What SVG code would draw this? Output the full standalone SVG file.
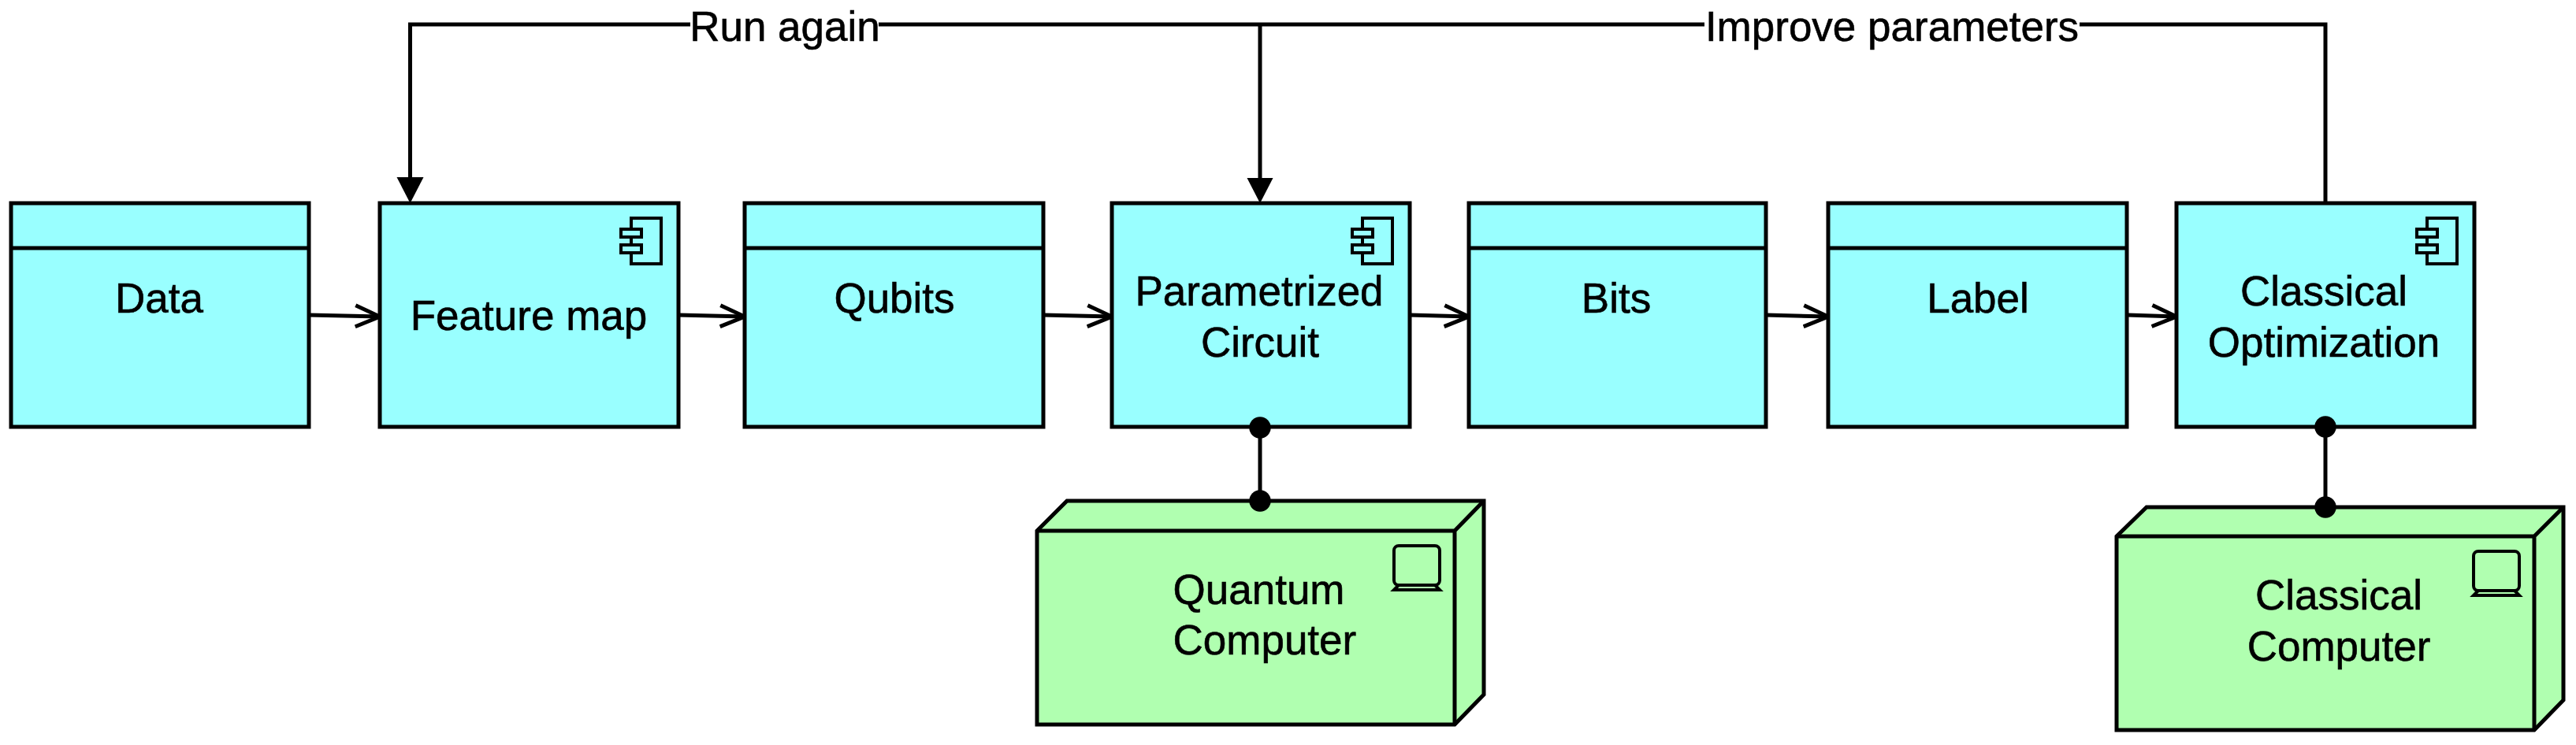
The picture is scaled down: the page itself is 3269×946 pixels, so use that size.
<svg xmlns="http://www.w3.org/2000/svg" width="3269" height="946" viewBox="0 0 3269 946">
<style>
.b{fill:#99ffff;stroke:#000;stroke-width:5}
.g{fill:#b0ffb0;stroke:#000;stroke-width:5;stroke-linejoin:miter}
.i{fill:#99ffff;stroke:#000;stroke-width:4}
.m{fill:none;stroke:#000;stroke-width:4}
.l{fill:none;stroke:#000;stroke-width:5}
text{font-family:"Liberation Sans",Arial,sans-serif;font-size:53px;fill:#000;stroke:#000;stroke-width:0.6;text-anchor:middle}
text.s{text-anchor:start}
</style>
<defs>
<marker id="open" markerUnits="userSpaceOnUse" markerWidth="40" markerHeight="40" refX="32" refY="20" orient="auto" viewBox="0 0 40 40"><path d="M1,6.500 L32,20 L1,33.500" fill="none" stroke="#000" stroke-width="5"/></marker>
<g id="cmp"><rect class="i" x="0" y="0" width="38" height="58"/><rect class="i" x="-13" y="14" width="26" height="10"/><rect class="i" x="-13" y="34" width="26" height="10"/></g>
</defs>
<rect width="3269" height="946" fill="#fff"/>
<g id="connectors">
<path class="l" d="M876,31 H520.500 V226"/>
<path class="l" d="M1115,31 H2163"/>
<path class="l" d="M2639,31 H2951 V258"/>
<path class="l" d="M1599,31 V228"/>
<path d="M503.500,225 H537.500 L520.500,258 Z" fill="#000"/>
<path d="M1582.500,226 H1615.500 L1599,258 Z" fill="#000"/>
<line class="l" x1="392" y1="400" x2="482" y2="402" marker-end="url(#open)"/>
<line class="l" x1="861" y1="400" x2="945" y2="402" marker-end="url(#open)"/>
<line class="l" x1="1324" y1="400" x2="1411" y2="402" marker-end="url(#open)"/>
<line class="l" x1="1789" y1="400" x2="1864" y2="402" marker-end="url(#open)"/>
<line class="l" x1="2241" y1="400" x2="2320" y2="402" marker-end="url(#open)"/>
<line class="l" x1="2700" y1="400" x2="2762" y2="402" marker-end="url(#open)"/>
</g>
<g id="data"><rect class="b" x="14" y="258" width="378" height="284"/><line class="l" x1="14" y1="315" x2="392" y2="315"/><text x="202" y="397">Data</text></g>
<g id="feature-map"><rect class="b" x="482" y="258" width="379" height="284"/><use href="#cmp" x="801" y="277"/><text x="671" y="419">Feature map</text></g>
<g id="qubits"><rect class="b" x="945" y="258" width="379" height="284"/><line class="l" x1="945" y1="315" x2="1324" y2="315"/><text x="1135" y="397">Qubits</text></g>
<g id="parametrized-circuit"><rect class="b" x="1411" y="258" width="378" height="284"/><use href="#cmp" x="1729" y="277"/><text x="1598" y="388">Parametrized</text><text x="1599" y="453">Circuit</text></g>
<g id="bits"><rect class="b" x="1864" y="258" width="377" height="284"/><line class="l" x1="1864" y1="315" x2="2241" y2="315"/><text x="2051" y="397">Bits</text></g>
<g id="label"><rect class="b" x="2320" y="258" width="379" height="284"/><line class="l" x1="2320" y1="315" x2="2699" y2="315"/><text x="2510" y="397">Label</text></g>
<g id="classical-optimization"><rect class="b" x="2762" y="258" width="378" height="284"/><use href="#cmp" x="3080" y="277"/><text x="2949" y="388">Classical</text><text x="2949" y="453">Optimization</text></g>
<g id="quantum-computer">
<path class="g" d="M1316,674 L1354,636 H1883 V882 L1846,920 H1316 Z"/><path class="l" d="M1316,674 H1846 V920 M1846,674 L1883,636"/>
<rect class="m" x="1769" y="693" width="58" height="50" rx="6"/><path class="m" d="M1775,743 L1769,749 H1827 L1821,743"/>
<text class="s" x="1488.500" y="767">Quantum</text><text class="s" x="1488.500" y="831">Computer</text></g>
<g id="classical-computer">
<path class="g" d="M2686,681 L2724,644 H3253 V889 L3216,927 H2686 Z"/><path class="l" d="M2686,681 H3216 V927 M3216,681 L3253,644"/>
<rect class="m" x="3139" y="700" width="58" height="50" rx="6"/><path class="m" d="M3145,750 L3139,756 H3197 L3191,750"/>
<text x="2968" y="774">Classical</text><text x="2968" y="839">Computer</text></g>
<g id="labels"><text x="996" y="52">Run again</text><text x="2401" y="52">Improve parameters</text></g>
<g id="associations">
<path class="l" d="M1599,543 V636"/><circle cx="1599" cy="543" r="13.700"/><circle cx="1599" cy="636" r="13.700"/>
<path class="l" d="M2951,542 V644"/><circle cx="2951" cy="542" r="13.700"/><circle cx="2951" cy="644" r="13.700"/>
</g>
</svg>
